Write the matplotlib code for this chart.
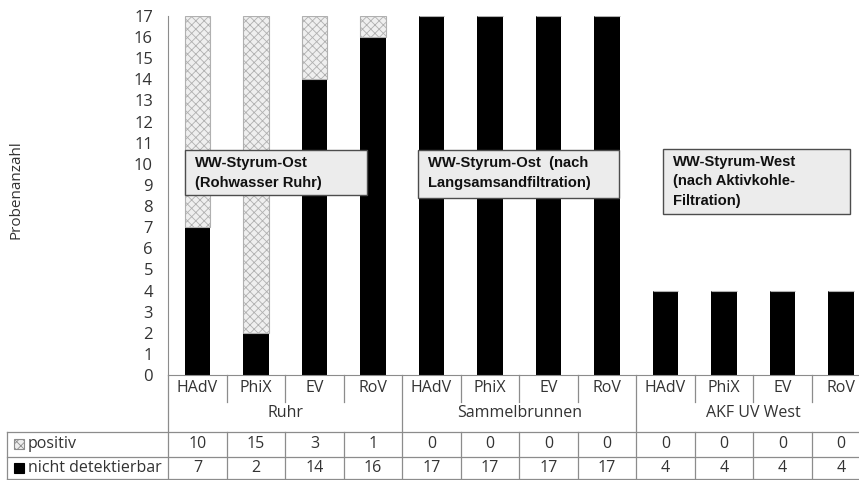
import numpy as np
import matplotlib.pyplot as plt
from matplotlib.patches import Rectangle

plt.rcParams['font.family'] = ['Open Sans', 'DejaVu Sans']
plt.rcParams['hatch.linewidth'] = 0.6

groups = ['Ruhr', 'Sammelbrunnen', 'AKF UV West']
viren = ['HAdV', 'PhiX', 'EV', 'RoV']
positiv = [10, 15, 3, 1, 0, 0, 0, 0, 0, 0, 0, 0]
nicht = [7, 2, 14, 16, 17, 17, 17, 17, 4, 4, 4, 4]
kategorien = viren * 3
boxen = ['WW-Styrum-Ost\n(Rohwasser Ruhr)',
         'WW-Styrum-Ost  (nach\nLangsamsandfiltration)',
         'WW-Styrum-West\n(nach Aktivkohle-\nFiltration)']

W, H = 859, 480
txt = '#333333'
linie = '#8c8c8c'
fs = 11.5

fig = plt.figure(figsize=(W / 100, H / 100), dpi=100)
ax = fig.add_axes([168.25 / W, 105 / H, 702 / W, 359 / H])

x = np.arange(len(nicht))
ax.bar(x, nicht, width=0.43, color='black', zorder=2)
ax.bar(x, positiv, bottom=nicht, width=0.43, color='#efefef',
       edgecolor='#b0b0b0', hatch='xxxx', linewidth=0.8, zorder=2)

ax.set_xlim(-0.5, 11.5)
ax.set_ylim(0, 17)
ax.set_yticks(range(0, 18))
ax.set_xticks([])
ax.tick_params(axis='y', length=0, pad=11, labelsize=12, labelcolor=txt)
for s in ['top', 'right']:
    ax.spines[s].set_visible(False)
ax.spines['left'].set_color(linie)
ax.spines['bottom'].set_color(linie)

fig.text(16 / W, 1 - 190 / H, 'Probenanzahl', rotation=90, ha='center',
         va='center', fontsize=11, color=txt)

# Textboxen (Pixelpositionen -> Achsenanteile)
def px(xp, yp):
    return (xp - 168.25) / 702, (375 - yp) / 359

box_pos = [(185, 150, 367, 195), (418, 150, 619, 198), (663, 149, 850, 214)]
for (x0, y0, x1, y1), t in zip(box_pos, boxen):
    ax0, ay1 = px(x0, y0)
    ax1, ay0 = px(x1, y1)
    ax.add_patch(Rectangle((ax0, ay0), ax1 - ax0, ay1 - ay0,
                           transform=ax.transAxes, facecolor='#ececec',
                           edgecolor='#4d4d4d', linewidth=1.0, zorder=3))
    tx, ty = px(x0 + 10, y0 + 6)
    ax.text(tx, ty, t, transform=ax.transAxes, ha='left', va='top',
            family=['Liberation Sans', 'DejaVu Sans'], fontweight='bold',
            fontsize=10.6, linespacing=1.5, color='#111111', zorder=4)

# Tabelle unter der Achse
tr = ax.get_xaxis_transform()
def yf(yp):
    return (375 - yp) / 359
xl = -0.5 - (168.25 - 7) / 58.5

def hline(x0, x1, yp):
    ax.plot([x0, x1], [yf(yp), yf(yp)], color=linie, lw=0.9,
            transform=tr, clip_on=False)

def vline(xv, y0, y1):
    ax.plot([xv, xv], [yf(y0), yf(y1)], color=linie, lw=0.9,
            transform=tr, clip_on=False)

hline(xl, 11.5, 432)
hline(xl, 11.5, 457)
hline(xl, 11.5, 479)
vline(xl, 432, 480)
vline(-0.5, 375, 480)
for i in range(1, 12):
    b = i - 0.5
    if i % 4 == 0:
        vline(b, 375, 480)
    else:
        vline(b, 375, 402)
        vline(b, 432, 480)

for i, k in enumerate(kategorien):
    ax.text(i, yf(388), k, transform=tr, ha='center', va='center',
            fontsize=fs, color=txt)
    ax.text(i, yf(444), str(positiv[i]), transform=tr, ha='center',
            va='center', fontsize=fs, color=txt)
    ax.text(i, yf(468), str(nicht[i]), transform=tr, ha='center',
            va='center', fontsize=fs, color=txt)
for g, grp in enumerate(groups):
    ax.text(4 * g + 1.5, yf(413), grp, transform=tr, ha='center',
            va='center', fontsize=fs, color=txt)

# Legendenschluessel in der Tabelle
xk = -0.5 - (168.25 - 14) / 58.5
kw = 10 / 58.5
for yp, fc, ec, h in [(444, '#ededed', '#8c8c8c', 'xxxx'),
                      (468, 'black', 'black', None)]:
    ax.add_patch(Rectangle((xk, yf(yp + 5)), kw, 10 / 359, transform=tr,
                           facecolor=fc, edgecolor=ec, hatch=h, lw=0.8,
                           clip_on=False))
ax.text(xk + kw + 0.06, yf(444), 'positiv', transform=tr, ha='left',
        va='center', fontsize=fs, color=txt)
ax.text(xk + kw + 0.06, yf(468), 'nicht detektierbar', transform=tr,
        ha='left', va='center', fontsize=fs, color=txt)

fig.savefig('out.png', dpi=100)
